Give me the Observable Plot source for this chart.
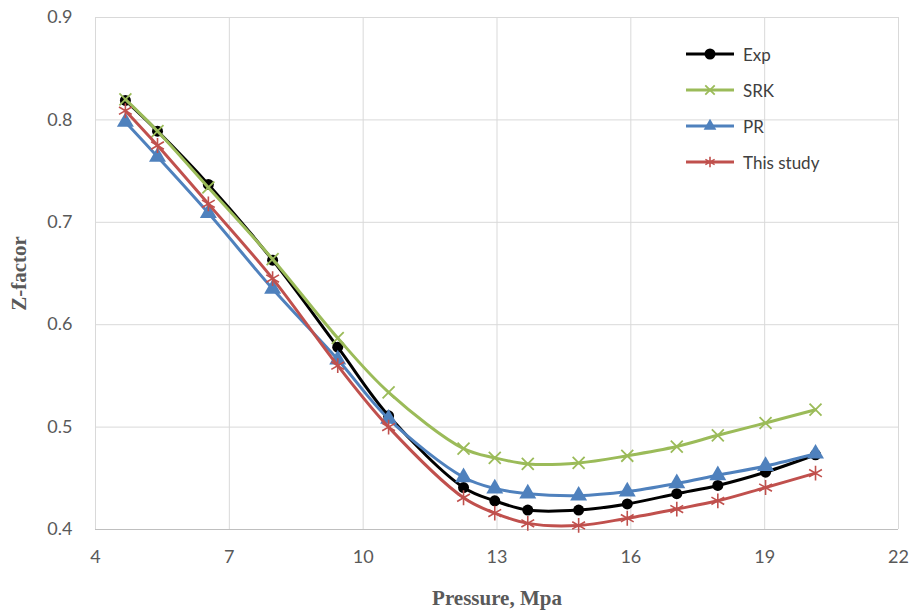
<!DOCTYPE html>
<html>
<head>
<meta charset="utf-8">
<script src="https://cdn.jsdelivr.net/npm/d3@7"></script>
<script src="https://cdn.jsdelivr.net/npm/@observablehq/plot@0.6"></script>
<style>
  body { margin: 0; background: #fff; }
  #wrap { position: relative; width: 914px; height: 613px; }
  g[aria-label="x-axis label"] text, g[aria-label="y-axis label"] text {
    font-family: "Liberation Serif", serif; font-weight: bold; font-size: 21px; fill: #595959;
  }
  #legend { position: absolute; left: 684px; top: 36px; font-family: Lato, sans-serif; font-size: 17px; color: #404040; }
  #legend .row { display: flex; align-items: center; height: 36px; }
  #legend svg { margin-right: 7px; }
</style>
</head>
<body>
<div id="wrap"><div id="legend"></div></div>
<script>
const pressure = [4.67, 5.39, 6.53, 7.97, 9.43, 10.57, 12.25, 12.95, 13.69, 14.83, 15.92, 17.03, 17.95, 19.02, 20.14];
const expZ   = [0.819, 0.789, 0.737, 0.663, 0.578, 0.511, 0.441, 0.428, 0.419, 0.419, 0.425, 0.435, 0.443, 0.456, 0.473];
const srkZ   = [0.820, 0.789, 0.734, 0.664, 0.587, 0.534, 0.479, 0.470, 0.464, 0.465, 0.472, 0.481, 0.492, 0.504, 0.517];
const prZ    = [0.798, 0.764, 0.709, 0.635, 0.566, 0.508, 0.451, 0.440, 0.435, 0.433, 0.437, 0.445, 0.453, 0.462, 0.474];
const studyZ = [0.809, 0.775, 0.718, 0.645, 0.560, 0.500, 0.431, 0.416, 0.406, 0.404, 0.411, 0.420, 0.428, 0.441, 0.455];
const seriesNames = ["Exp", "SRK", "PR", "This study"];
const seriesColors = ["#000000", "#9BBB59", "#4F81BD", "#C0504D"];
const xTicks = [4, 7, 10, 13, 16, 19, 22];
const yTicks = [0.4, 0.5, 0.6, 0.7, 0.8, 0.9];

const seriesValues = [expZ, srkZ, prZ, studyZ];
const rows = [];
seriesNames.forEach((s, i) => pressure.forEach((p, j) => rows.push({series: s, p, z: seriesValues[i][j]})));
const of = s => rows.filter(d => d.series === s);
const col = s => seriesColors[seriesNames.indexOf(s)];

const markerOpts = {
  "Exp": {symbol: "circle", r: 5.5, fill: col("Exp"), stroke: "none"},
  "SRK": {symbol: "times", r: 5.5, stroke: col("SRK"), strokeWidth: 1.8},
  "PR": {symbol: "triangle", r: 6.3, fill: col("PR"), stroke: "none"},
  "This study": {symbol: "asterisk", r: 7, stroke: col("This study"), strokeWidth: 1.6}
};

const seriesMarks = seriesNames.flatMap(s => [
  Plot.line(of(s), {x: "p", y: "z", stroke: col(s), strokeWidth: 3, curve: "catmull-rom"}),
  Plot.dot(of(s), {x: "p", y: "z", ...markerOpts[s]})
]);

const chart = Plot.plot({
  width: 914, height: 613,
  marginLeft: 95, marginRight: 16, marginTop: 17, marginBottom: 84,
  style: {fontFamily: "Lato, sans-serif", fontSize: "18px", color: "#595959", background: "transparent"},
  x: {domain: [4, 22]},
  y: {domain: [0.4, 0.9]},
  marks: [
    Plot.gridX(xTicks, {stroke: "#d9d9d9", strokeOpacity: 1}),
    Plot.gridY(yTicks, {stroke: "#d9d9d9", strokeOpacity: 1}),
    Plot.ruleY([0.4], {stroke: "#bfbfbf"}),
    Plot.axisX({ticks: xTicks, tickSize: 0, tickPadding: 21, fontSize: 18, label: "Pressure, Mpa", labelAnchor: "center", labelArrow: "none", labelOffset: 75}),
    Plot.axisY({ticks: yTicks, tickSize: 0, tickPadding: 23, fontSize: 18, tickFormat: d3.format(".1f"), label: "Z-factor", labelAnchor: "center", labelArrow: "none", labelOffset: 84}),
    ...seriesMarks
  ]
});
document.getElementById("wrap").prepend(chart);

// legend
const legend = d3.select("#legend");
seriesNames.forEach((s, i) => {
  const row = legend.append("div").attr("class", "row");
  const svg = row.append("svg").attr("width", 52).attr("height", 20);
  svg.append("line").attr("x1", 2).attr("x2", 50).attr("y1", 10).attr("y2", 10)
    .attr("stroke", seriesColors[i]).attr("stroke-width", 3);
  const g = svg.append("g").attr("transform", "translate(26,10)");
  const shape = markerOpts[s].symbol;
  if (shape === "circle") g.append("circle").attr("r", 5.5).attr("fill", seriesColors[i]);
  if (shape === "triangle") g.append("path").attr("d", d3.symbol(d3.symbolTriangle, 70)()).attr("fill", seriesColors[i]);
  if (shape === "times") g.append("path").attr("d", d3.symbol(d3.symbolTimes, 60)()).attr("stroke", seriesColors[i]).attr("stroke-width", 1.8).attr("fill", "none");
  if (shape === "asterisk") g.append("path").attr("d", d3.symbol(d3.symbolAsterisk, 80)()).attr("stroke", seriesColors[i]).attr("stroke-width", 1.6).attr("fill", "none");
  row.append("span").text(s);
});
</script>
</body>
</html>
